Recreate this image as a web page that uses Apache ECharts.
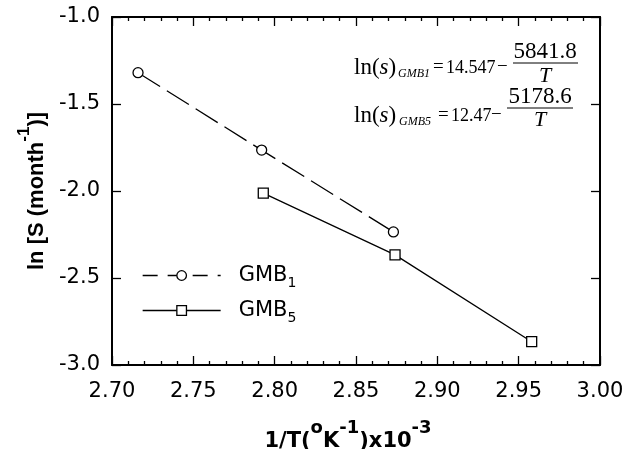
<!DOCTYPE html>
<html>
<head>
<meta charset="utf-8">
<script src="https://cdn.jsdelivr.net/npm/echarts@6/dist/echarts.min.js"></script>
<style>
html,body{margin:0;padding:0;background:#fff}
#main{width:623px;height:449px}
</style>
</head>
<body>
<div id="main"></div>
<script>
// values
var gmb1X = [2.716, 2.792, 2.873];
var gmb1Y = [-1.32, -1.765, -2.235];
var gmb5X = [2.793, 2.874, 2.958];
var gmb5Y = [-2.012, -2.367, -2.866];
var seriesNames = ['GMB1', 'GMB5'];

function pairs(xs, ys) {
    var out = [];
    for (var i = 0; i < xs.length; i++) out.push([xs[i], ys[i]]);
    return out;
}

var SANS = '"DejaVu Sans", sans-serif';
var ARIAL = '"Liberation Sans", Arial, sans-serif';
var SERIF = '"Liberation Serif", "Times New Roman", serif';

var dom = document.getElementById('main');
var myChart = echarts.init(dom);

// rich styles for superscripts in the axis names
// (tall line for the main part, superscript pinned to the top of the line)
var xNameRich = {
    m: {fontSize: 21, fontWeight: 'bold', fontFamily: SANS, color: '#000', lineHeight: 33, verticalAlign: 'bottom'},
    sup: {fontSize: 18, fontWeight: 'bold', fontFamily: SANS, color: '#000', verticalAlign: 'top'}
};
var yNameRich = {
    m: {fontSize: 22, fontWeight: 'bold', fontFamily: ARIAL, color: '#000', lineHeight: 32, verticalAlign: 'bottom'},
    sup: {fontSize: 17, fontWeight: 'bold', fontFamily: ARIAL, color: '#000', verticalAlign: 'top'}
};

function serifText(txt, x, y, size, opts) {
    opts = opts || {};
    return {
        type: 'text',
        x: x,
        y: y,
        style: {
            text: txt,
            fontSize: size,
            fontFamily: SERIF,
            fontStyle: opts.italic ? 'italic' : 'normal',
            fill: '#000',
            align: opts.align || 'left',
            verticalAlign: 'middle',
            rich: opts.rich
        }
    };
}

var lnRich = {
    n: {fontSize: 23, fontFamily: SERIF, color: '#000'},
    i: {fontSize: 23, fontFamily: SERIF, fontStyle: 'italic', color: '#000'}
};

var option = {
    animation: false,
    backgroundColor: '#fff',
    grid: {left: 112, right: 23, top: 17, bottom: 84, outerBoundsMode: 'none'},
    legend: {
        orient: 'vertical',
        left: 142,
        top: 265,
        padding: 0,
        itemWidth: 78,
        itemHeight: 12,
        itemGap: 10,
        itemStyle: {borderWidth: 1.3},
        data: [
            {name: seriesNames[0], lineStyle: {type: [15, 10], width: 1.3}},
            {name: seriesNames[1], lineStyle: {width: 1.3}}
        ],
        formatter: function (name) {
            return '{a|GMB}{b|' + name.slice(3) + '}';
        },
        textStyle: {
            rich: {
                a: {fontSize: 21, fontFamily: SANS, color: '#000', lineHeight: 21, verticalAlign: 'top', padding: [0, 0, 0, 13]},
                b: {fontSize: 14, fontFamily: SANS, color: '#000', lineHeight: 14, padding: [11, 0, 0, 0], verticalAlign: 'top'}
            }
        }
    },
    xAxis: [
        {
            type: 'value',
            min: 2.7,
            max: 3.0,
            interval: 0.05,
            name: '{m|1/T(}{sup|o}{m|K}{sup|-1}{m|)x10}{sup|-3}',
            nameLocation: 'middle',
            nameGap: 54,
            nameTextStyle: {rich: xNameRich, padding: [0, 16, 0, 0]},
            axisLine: {lineStyle: {color: '#000', width: 2}},
            axisTick: {inside: true, length: 9, lineStyle: {color: '#000', width: 1.3}},
            minorTick: {show: true, splitNumber: 5, length: 4, lineStyle: {color: '#000', width: 1.3}},
            splitLine: {show: false},
            axisLabel: {
                margin: 16,
                color: '#000',
                fontSize: 21,
                fontFamily: SANS,
                formatter: function (v) { return v.toFixed(2); }
            }
        },
        {
            type: 'value',
            position: 'top',
            min: 2.7,
            max: 3.0,
            interval: 0.05,
            axisLine: {lineStyle: {color: '#000', width: 2}},
            axisTick: {inside: true, length: 9, lineStyle: {color: '#000', width: 1.3}},
            minorTick: {show: true, splitNumber: 5, length: 4, lineStyle: {color: '#000', width: 1.3}},
            splitLine: {show: false},
            axisLabel: {show: false}
        }
    ],
    yAxis: [
        {
            type: 'value',
            min: -3,
            max: -1,
            interval: 0.5,
            name: '{m|ln [S (month}{sup|-1}{m|)]}',
            nameLocation: 'middle',
            nameGap: 63,
            nameTextStyle: {rich: yNameRich},
            axisLine: {lineStyle: {color: '#000', width: 2}},
            axisTick: {inside: true, length: 9, lineStyle: {color: '#000', width: 1.3}},
            splitLine: {show: false},
            axisLabel: {
                margin: 12,
                color: '#000',
                fontSize: 21,
                fontFamily: SANS,
                formatter: function (v) { return v.toFixed(1); }
            }
        },
        {
            type: 'value',
            position: 'right',
            min: -3,
            max: -1,
            interval: 0.5,
            axisLine: {lineStyle: {color: '#000', width: 2}},
            axisTick: {inside: true, length: 9, lineStyle: {color: '#000', width: 1.3}},
            splitLine: {show: false},
            axisLabel: {show: false}
        }
    ],
    graphic: [
        // ln(s)_GMB1 = 14.547 - 5841.8 / T
        serifText('{n|ln(}{i|s}{n|)}', 354, 68, 23, {rich: lnRich}),
        serifText('GMB1', 398, 74, 12, {italic: true}),
        serifText('=', 433, 67, 19),
        serifText('14.547', 446, 68, 18),
        serifText('\u2212', 497, 67, 19),
        serifText('5841.8', 545, 52, 23, {align: 'center'}),
        {type: 'line', shape: {x1: 513, y1: 63, x2: 578, y2: 63}, style: {stroke: '#000', lineWidth: 1}},
        serifText('T', 545, 76, 22, {align: 'center', italic: true}),
        // ln(s)_GMB5 = 12.47 - 5178.6 / T
        serifText('{n|ln(}{i|s}{n|)}', 354, 116, 23, {rich: lnRich}),
        serifText('GMB5', 399, 122, 12, {italic: true}),
        serifText('=', 438, 115, 19),
        serifText('12.47', 451, 116, 18),
        serifText('\u2212', 491, 115, 19),
        serifText('5178.6', 540, 97, 23, {align: 'center'}),
        {type: 'line', shape: {x1: 507, y1: 108, x2: 573, y2: 108}, style: {stroke: '#000', lineWidth: 1}},
        serifText('T', 540, 120, 22, {align: 'center', italic: true})
    ],
    series: [
        {
            name: seriesNames[0],
            type: 'line',
            data: pairs(gmb1X, gmb1Y),
            symbol: 'circle',
            symbolSize: 10,
            itemStyle: {color: '#fff', borderColor: '#000', borderWidth: 1.3},
            lineStyle: {color: '#000', width: 1.3, type: [26, 8]},
            z: 3
        },
        {
            name: seriesNames[1],
            type: 'line',
            data: pairs(gmb5X, gmb5Y),
            symbol: 'rect',
            symbolSize: 10,
            itemStyle: {color: '#fff', borderColor: '#000', borderWidth: 1.3},
            lineStyle: {color: '#000', width: 1.3},
            z: 3
        }
    ]
};

if (option && typeof option === "object") {
    myChart.setOption(option, true);
}
</script>
</body>
</html>
